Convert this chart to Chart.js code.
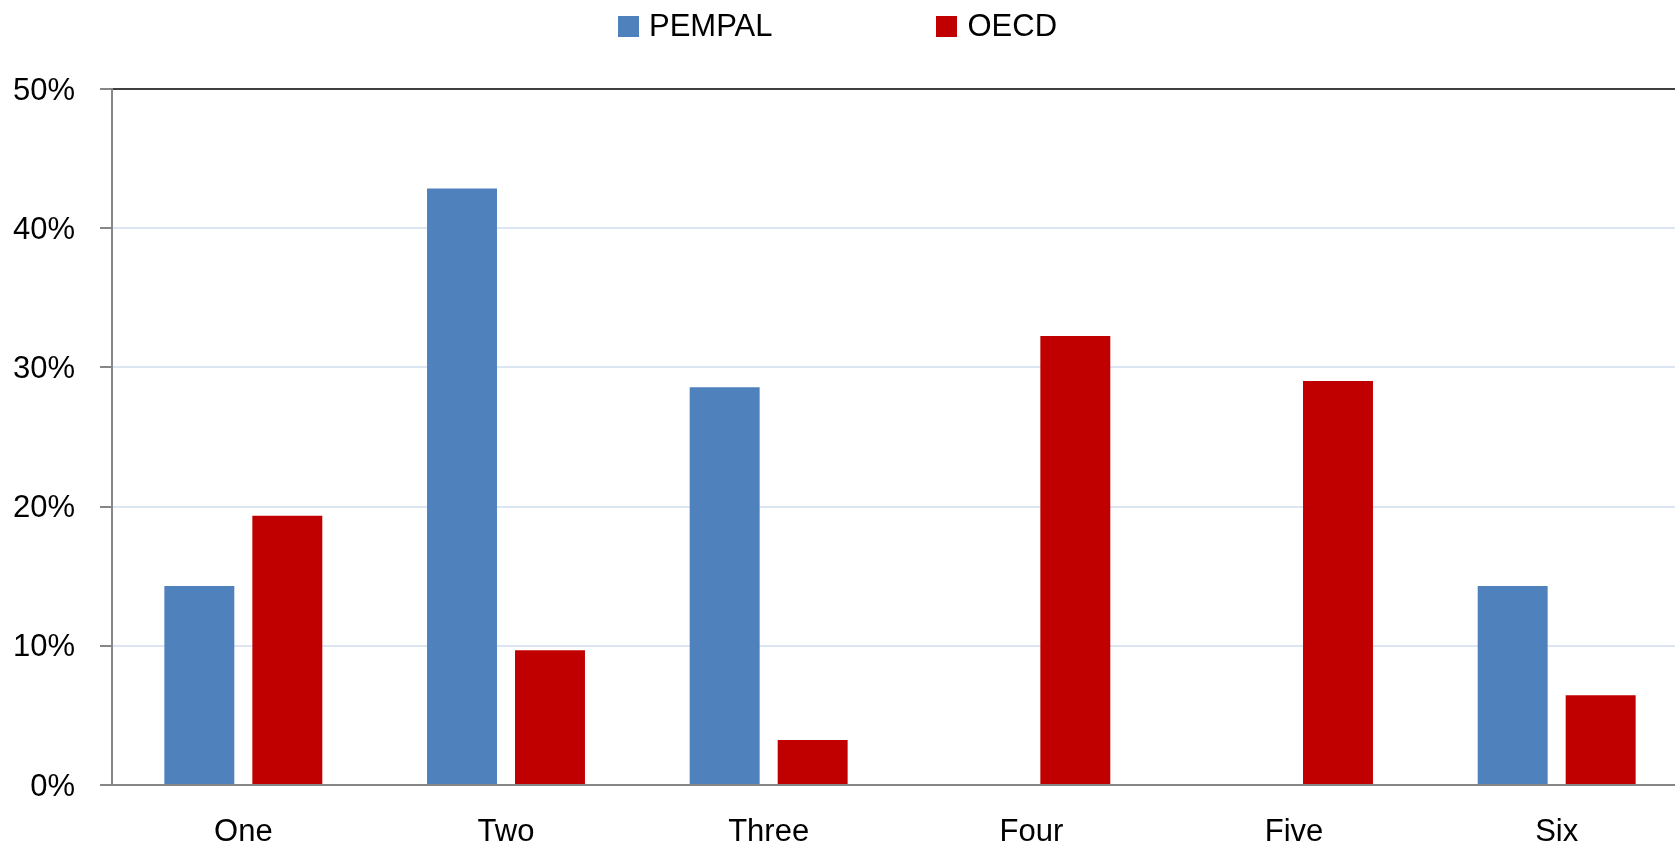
<!DOCTYPE html>
<html>
<head>
<meta charset="utf-8">
<script src="https://cdn.jsdelivr.net/npm/chart.js@4/dist/chart.umd.min.js"></script>
<style>
  html, body { margin: 0; padding: 0; background: #fff; overflow: hidden; }
  #wrap { position: relative; width: 1675px; height: 850px; overflow: hidden; }
  #legend {
    position: absolute; top: 8px; left: 0; width: 1675px;
    display: flex; justify-content: center; gap: 164px;
    font-family: "Liberation Sans", Arial, sans-serif; font-size: 31px; color: #000;
  }
  .item { display: flex; align-items: center; }
  .box { width: 21px; height: 21px; margin-right: 10px; }
  canvas { position: absolute; left: 0; top: 0; }
</style>
</head>
<body>
<div id="wrap">
  <canvas id="chart" width="1688" height="850"></canvas>
  <div id="legend"></div>
</div>
<script>
// ===== 資料 =====
const categories = ["One", "Two", "Three", "Four", "Five", "Six"];
const pempalValues = [0.1429, 0.4286, 0.2857, 0, 0, 0.1429];
const oecdValues = [0.1935, 0.0968, 0.0323, 0.3226, 0.2903, 0.0645];
const yTicks = [0, 0.1, 0.2, 0.3, 0.4, 0.5];

const seriesNames = ["PEMPAL", "OECD"];
const seriesColors = ["#4f81bd", "#c00000"];

const font = "'Liberation Sans', Arial, sans-serif";

// ===== 圖例 (HTML) =====
const legendEl = document.getElementById("legend");
seriesNames.forEach((name, i) => {
  const item = document.createElement("div");
  item.className = "item";
  item.innerHTML = `<span class="box" style="background:${seriesColors[i]}"></span><span>${name}</span>`;
  legendEl.appendChild(item);
});

const canvas = document.getElementById("chart");
new Chart(canvas, {
  type: "bar",
  data: {
    labels: categories,
    datasets: [
      {
        label: seriesNames[0],
        data: pempalValues,
        backgroundColor: seriesColors[0],
        categoryPercentage: 0.67,
        barPercentage: 0.795,
      },
      {
        label: seriesNames[1],
        data: oecdValues,
        backgroundColor: seriesColors[1],
        categoryPercentage: 0.67,
        barPercentage: 0.795,
      },
    ],
  },
  options: {
    responsive: false,
    animation: false,
    layout: { padding: { top: 89, right: 0, bottom: 0, left: 0 } },
    plugins: {
      legend: { display: false },
      tooltip: { enabled: false },
    },
    scales: {
      x: {
        grid: { display: false, drawTicks: false },
        border: { color: "#868686", width: 2 },
        ticks: {
          padding: 29,
          color: "#000",
          font: { family: font, size: 31 },
        },
        afterFit: (scale) => { scale.height = 65; },
      },
      y: {
        min: 0,
        max: 0.5,
        afterBuildTicks: (scale) => {
          scale.ticks = yTicks.map((v) => ({ value: v }));
        },
        grid: {
          color: (ctx) => (ctx.tick && ctx.tick.value === 0.5 ? "#404040" : "#dce6f2"),
          lineWidth: 2,
          tickColor: "#868686",
          tickLength: 12,
        },
        border: { color: "#868686", width: 2 },
        ticks: {
          padding: 25,
          labelOffset: 2,
          color: "#000",
          font: { family: font, size: 31 },
          callback: (v) => Math.round(v * 100) + "%",
        },
        afterFit: (scale) => { scale.width = 112; },
      },
    },
  },
});
</script>
</body>
</html>
